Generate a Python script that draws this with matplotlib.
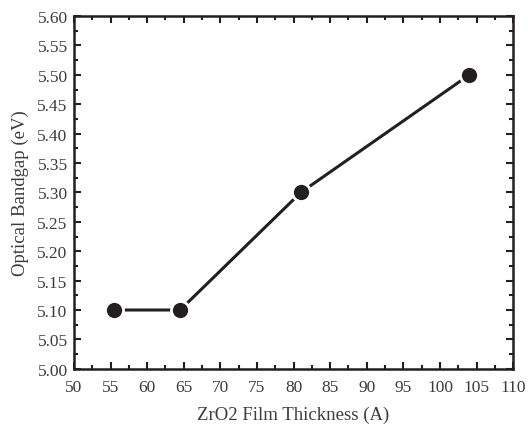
import matplotlib
matplotlib.use("Agg")
import matplotlib.pyplot as plt
from matplotlib.ticker import MultipleLocator

# film thickness (A) and optical bandgap (eV)
thickness = [55.5, 64.5, 81, 104]
bandgap = [5.10, 5.10, 5.30, 5.50]

plt.rcParams['font.family'] = ['Liberation Serif', 'DejaVu Serif']

ink = '#231f20'
txt = '#3c3c3c'

fig = plt.figure(figsize=(5.28, 4.27), dpi=100)
ax = fig.add_axes([0.140, 0.134, 0.832, 0.826])

ax.plot(thickness, bandgap, color=ink, lw=2.2, marker='o', markersize=13,
        markerfacecolor=ink, markeredgecolor='white', markeredgewidth=2)

ax.set_xlim(50, 110)
ax.set_ylim(5.00, 5.60)
ax.xaxis.set_major_locator(MultipleLocator(5))
ax.xaxis.set_minor_locator(MultipleLocator(2.5))
ax.yaxis.set_major_locator(MultipleLocator(0.05))
ax.yaxis.set_minor_locator(MultipleLocator(0.025))
ax.yaxis.set_major_formatter(plt.FormatStrFormatter('%.2f'))

for s in ax.spines.values():
    s.set_linewidth(1.8)
    s.set_color(ink)

ax.tick_params(which='both', direction='in', top=True, right=True,
               color=ink, width=1.5, labelsize=12.5, labelcolor=txt)
ax.tick_params(which='major', length=5)
ax.tick_params(which='minor', length=3)
ax.tick_params(axis='x', which='major', pad=7)
ax.tick_params(axis='y', which='major', pad=4.5)

ax.set_xlabel('ZrO2 Film Thickness (A)', fontsize=13.5, color=txt, labelpad=8)
ax.set_ylabel('Optical Bandgap (eV)', fontsize=13.5, color=txt, labelpad=6)

fig.savefig('out.png', dpi=100)
